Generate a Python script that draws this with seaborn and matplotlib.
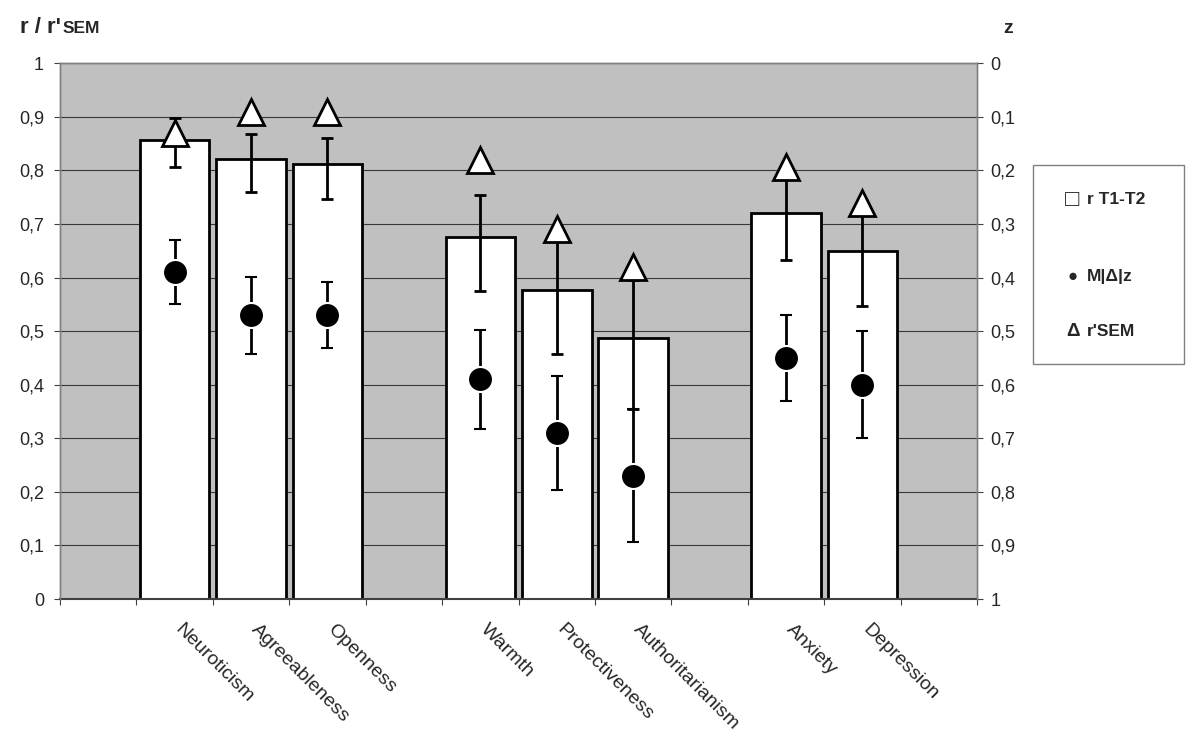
import matplotlib
matplotlib.use('Agg')
import numpy as np
import pandas as pd
import matplotlib.pyplot as plt
import seaborn as sns
from matplotlib.patches import Rectangle
from matplotlib.ticker import FuncFormatter
from matplotlib.transforms import blended_transform_factory, ScaledTranslation

# trait groups, an empty slot is left between groups
groups = [
    ['Neuroticism', 'Agreeableness', 'Openness'],
    ['Warmth', 'Protectiveness', 'Authoritarianism'],
    ['Anxiety', 'Depression'],
]
# r T1-T2 with confidence limits (left axis)
r_t1t2 = [0.857, 0.821, 0.812, 0.675, 0.576, 0.488, 0.720, 0.649]
r_lo = [0.806, 0.759, 0.747, 0.575, 0.457, 0.355, 0.632, 0.547]
r_hi = [0.897, 0.868, 0.861, 0.754, 0.670, 0.595, 0.790, 0.730]
# mean |delta| z with error (right axis, inverted)
m_dz = [0.39, 0.47, 0.47, 0.59, 0.69, 0.77, 0.55, 0.60]
m_dz_err = [0.06, 0.072, 0.062, 0.093, 0.106, 0.124, 0.08, 0.10]
# r'SEM (left axis)
r_sem = [0.870, 0.909, 0.909, 0.820, 0.690, 0.620, 0.807, 0.740]

names, slots = [], []
s = 1
for g in groups:
    for n in g:
        names.append(n)
        slots.append(s)
        s += 1
    s += 1
n_slots = s

df = pd.DataFrame({'trait': names, 'slot': slots, 'r': r_t1t2,
                   'r_lo': r_lo, 'r_hi': r_hi,
                   'mdz': m_dz, 'mdz_err': m_dz_err, 'rsem': r_sem})

sns.set_style('ticks')
plt.rcParams['font.family'] = ['Liberation Sans', 'DejaVu Sans']

fig = plt.figure(figsize=(12, 7.5), dpi=100)
ax = fig.add_axes([0.05, 0.2013, 0.7642, 0.7143])
ax.set_facecolor('#c0c0c0')

sns.barplot(data=df, x='slot', y='r', native_scale=True, width=0.91,
            color='white', edgecolor='black', linewidth=2, saturation=1,
            errorbar=None, ax=ax, zorder=2)
ax.errorbar(df['slot'], df['r'], yerr=[df['r'] - df['r_lo'], df['r_hi'] - df['r']],
            fmt='none', ecolor='black', elinewidth=2, capsize=4.5, capthick=2, zorder=3)

ax2 = ax.twinx()
ax2.errorbar(df['slot'], df['mdz'], yerr=df['mdz_err'], fmt='o', color='black',
             ms=18, mec='white', mew=1.5, elinewidth=2, capsize=4.5, capthick=2, zorder=3)
# r'SEM triangles belong to the left scale but are drawn on top
ax2.plot(df['slot'], df['rsem'], ls='none', marker='^', ms=19, mfc='white',
         mec='black', mew=2, transform=ax.transData, zorder=4)

comma = FuncFormatter(lambda v, _: f'{v:g}'.replace('.', ','))
yt = np.linspace(0, 1, 11)

ax.set_ylim(0, 1)
ax.set_yticks(yt)
ax.yaxis.set_major_formatter(comma)
ax.yaxis.grid(True, color='#383838', lw=0.8)
ax.set_axisbelow(True)
ax.set_xlabel('')
ax.set_ylabel('')

ax2.set_ylim(1, 0)
ax2.set_yticks(yt)
ax2.yaxis.set_major_formatter(comma)

ax.set_xlim(-0.5, n_slots - 0.5)
ax.set_xticks(np.arange(n_slots + 1) - 0.5)
ax.set_xticklabels([])
ax.tick_params(axis='x', which='major', length=4.5, color='#404040', direction='out')

# category names, slanted, starting just right of each slot centre
lab_tr = blended_transform_factory(ax.transData, ax.transAxes) + \
    ScaledTranslation(9 / 100, -22 / 100, fig.dpi_scale_trans)
for name, x in zip(df['trait'], df['slot']):
    ax.text(x, 0, name, transform=lab_tr, rotation=-45, ha='left', va='top',
            rotation_mode='anchor', fontsize=14)

ax.tick_params(axis='y', length=4.5, color='#404040', pad=7, labelsize=13)
ax2.tick_params(axis='y', length=4.5, color='#404040', pad=5, labelsize=13)

for a in (ax, ax2):
    for sp in a.spines.values():
        sp.set_color('#808080')
        sp.set_linewidth(1)
ax.spines['bottom'].set_color('#404040')
ax.spines['bottom'].set_linewidth(1.5)
ax2.spines['bottom'].set_visible(False)

fig.text(20 / 1200, 1 - 33 / 750, "r / r'", fontsize=16, weight='bold', va='baseline')
fig.text(63 / 1200, 1 - 33 / 750, 'SEM', fontsize=12.5, weight='bold', va='baseline')
fig.text(1003 / 1200, 1 - 33 / 750, 'z', fontsize=14, weight='bold', va='baseline')

# legend box
fig.add_artist(Rectangle((1033 / 1200, 1 - 364 / 750), 151 / 1200, 199 / 750,
                         transform=fig.transFigure, facecolor='white',
                         edgecolor='#808080', lw=1))
fig.text(1065 / 1200, 1 - 200 / 750, '\u25a1', fontsize=17, va='center')
fig.text(1087 / 1200, 1 - 200 / 750, 'r T1-T2', fontsize=12.5, weight='bold', va='center')
fig.text(1068 / 1200, 1 - 277 / 750, '\u25cf', fontsize=12, va='center')
fig.text(1087 / 1200, 1 - 277 / 750, 'M|\u0394|z', fontsize=12.5, weight='bold', va='center')
fig.text(1066 / 1200, 1 - 332 / 750, '\u0394', fontsize=13.5, weight='bold', va='center')
fig.text(1087 / 1200, 1 - 332 / 750, "r'SEM", fontsize=12.5, weight='bold', va='center')

fig.savefig('out.png', dpi=100)
